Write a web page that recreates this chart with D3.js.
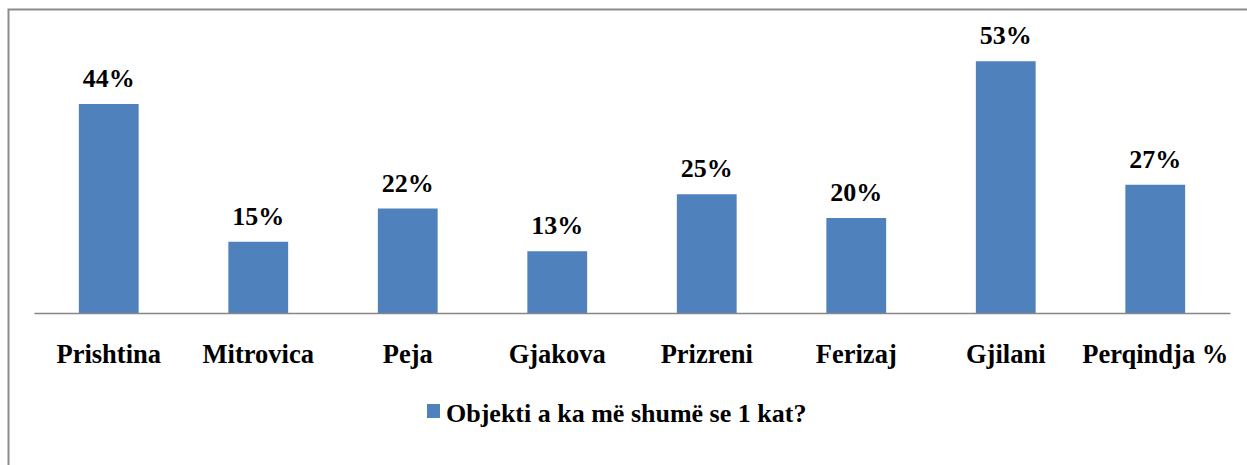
<!DOCTYPE html>
<html>
<head>
<meta charset="utf-8">
<script src="https://d3js.org/d3.v7.min.js"></script>
<style>
  body { margin: 0; background: #fff; }
  text { font-family: "Liberation Serif", "Times New Roman", serif; font-weight: bold; fill: #000; }
</style>
</head>
<body>
<script>
// data
var categories = ["Prishtina", "Mitrovica", "Peja", "Gjakova", "Prizreni", "Ferizaj", "Gjilani", "Perqindja %"];
var values = [0.44, 0.15, 0.22, 0.13, 0.25, 0.20, 0.53, 0.27];
var seriesName = "Objekti a ka më shumë se 1 kat?";

var W = 1247, H = 465;
var svg = d3.select("body").append("svg")
    .attr("width", W)
    .attr("height", H);

// outer frame
svg.append("rect")
    .attr("x", 8.5).attr("y", 9.5)
    .attr("width", 1260).attr("height", 480)
    .attr("fill", "none")
    .attr("stroke", "#8c8c8c")
    .attr("stroke-width", 2);

var plotLeft = 34, plotRight = 1230, plotTop = 28, plotBottom = 313;

var x = d3.scaleBand()
    .domain(categories)
    .range([plotLeft, plotRight])
    .paddingInner(0.6)
    .paddingOuter(0.3);

var y = d3.scaleLinear()
    .domain([0, 0.6])
    .range([plotBottom, plotTop]);

var color = "#4f81bd";

svg.selectAll("rect.bar")
    .data(values)
    .enter().append("rect")
    .attr("class", "bar")
    .attr("x", function(d, i) { return x(categories[i]); })
    .attr("y", function(d) { return y(d); })
    .attr("width", x.bandwidth())
    .attr("height", function(d) { return y(0) - y(d); })
    .attr("fill", color);

// value labels
svg.selectAll("text.val")
    .data(values)
    .enter().append("text")
    .attr("class", "val")
    .attr("x", function(d, i) { return x(categories[i]) + x.bandwidth() / 2; })
    .attr("y", function(d) { return y(d) - 17; })
    .attr("text-anchor", "middle")
    .style("font-size", "26px")
    .text(function(d) { return Math.round(d * 100) + "%"; });

// x axis
var xAxis = svg.append("g")
    .attr("transform", "translate(0," + plotBottom + ")")
    .call(d3.axisBottom(x).tickSize(0).tickPadding(31));
xAxis.select(".domain")
    .attr("stroke", "#868686")
    .attr("stroke-width", 1.5);
xAxis.selectAll("text")
    .style("font-size", "26.5px")
    .style("font-family", "'Liberation Serif', 'Times New Roman', serif")
    .style("font-weight", "bold")
    .attr("fill", "#000");

// legend
var legend = svg.append("g").attr("transform", "translate(427,404)");
legend.append("rect")
    .attr("width", 13).attr("height", 14)
    .attr("fill", color);
legend.append("text")
    .attr("x", 19).attr("y", 18)
    .style("font-size", "26px")
    .text(seriesName);
</script>
</body>
</html>
